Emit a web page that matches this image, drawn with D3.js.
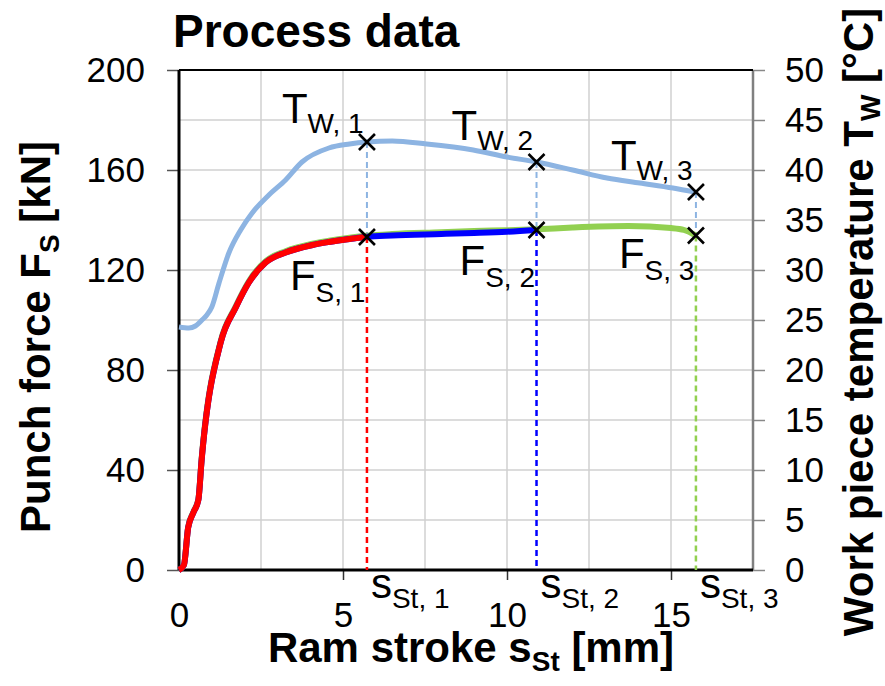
<!DOCTYPE html>
<html><head><meta charset="utf-8">
<script src="https://cdn.jsdelivr.net/npm/d3@7"></script>
<style>body{margin:0;background:#fff}svg{display:block}text{font-family:"Liberation Sans",Arial,sans-serif}</style>
</head><body>
<script>
// ---- data ----
const xTicks = [0, 5, 10, 15];
const xGrid = [2.5, 5, 7.5, 10, 12.5, 15];
const yLeftTicks = [0, 40, 80, 120, 160, 200];
const yGrid = [20, 40, 60, 80, 100, 120, 140, 160, 180];
const yRightTicks = [0, 5, 10, 15, 20, 25, 30, 35, 40, 45, 50];

const tempStroke = [0, 0.3, 0.5, 0.7, 0.85, 1.0, 1.22, 1.52, 1.88, 2.23, 2.74, 3.25, 3.75, 4.57, 5.2, 5.73, 6.5, 7.55, 8.97, 10.0, 10.9, 12.0, 13.05, 14.05, 15.06, 15.73];
const tempValues = [24.3, 24.2, 24.4, 25.0, 25.5, 26.3, 28.7, 31.7, 34.0, 35.7, 37.5, 39.0, 40.8, 42.2, 42.6, 42.8, 42.9, 42.6, 42.0, 41.3, 40.8, 40.0, 39.2, 38.7, 38.2, 37.8];

const forceStroke1 = [0, 0.15, 0.28, 0.44, 0.59, 0.69, 1.27, 1.73, 2.13, 2.64, 3.25, 4.07, 4.57, 5.2, 5.73];
const forceValues1 = [0, 2, 17, 23, 28, 44, 91, 105, 115, 123, 127, 130, 131.2, 132.4, 133.2];
const forceStroke2 = [0, 0.15, 0.28, 0.44, 0.59, 0.69, 1.27, 1.73, 2.13, 2.64, 3.25, 4.07, 4.57, 5.2, 5.73, 6.5, 8.0, 9.0, 10.0, 10.9];
const forceValues2 = [0, 2, 17, 23, 28, 44, 91, 105, 115, 123, 127, 130, 131.2, 132.4, 133.3, 133.8, 134.4, 134.8, 135.3, 136.0];
const forceStroke3 = [0, 0.15, 0.28, 0.44, 0.59, 0.69, 1.27, 1.73, 2.13, 2.64, 3.25, 4.07, 4.57, 5.2, 5.73, 6.5, 8.0, 9.0, 10.0, 10.9, 12.0, 13.7, 15.0, 15.4, 15.76];
const forceValues3 = [0, 2, 17.3, 23.3, 28.3, 44.5, 91.5, 105.5, 115.5, 123.5, 127.5, 130.5, 131.7, 132.9, 133.7, 134.4, 135.1, 135.6, 135.9, 136.3, 137.0, 137.6, 136.8, 136.0, 133.8];

const markStroke = [5.73, 10.9, 15.76];
const markForce = [133.2, 136.0, 133.8];
const markTemp = [42.8, 40.8, 37.8];
const markIdx = ["1", "2", "3"];
const seriesColors = ["#ff0000", "#0000ff", "#92d050"];
const tempColor = "#8db4e2";

// ---- layout ----
const W = 885, H = 686;
const L = 179, R = 753, T = 70, B = 570;
const svg = d3.select("body").append("svg").attr("width", W).attr("height", H);

const x = d3.scaleLinear().domain([0, 17.5]).range([L, R]);
const yF = d3.scaleLinear().domain([0, 200]).range([B, T]);
const yT = d3.scaleLinear().domain([0, 50]).range([B, T]);

// grid
svg.append("g").selectAll("line").data(xGrid).join("line")
  .attr("x1", d => x(d)).attr("x2", d => x(d)).attr("y1", T).attr("y2", B)
  .attr("stroke", "#d0d0d0").attr("stroke-width", 1.5);
svg.append("g").selectAll("line").data(yGrid).join("line")
  .attr("x1", L).attr("x2", R).attr("y1", d => yF(d)).attr("y2", d => yF(d))
  .attr("stroke", "#d0d0d0").attr("stroke-width", 1.5);

// axes
const axL = svg.append("g").attr("transform", `translate(${L},0)`)
  .call(d3.axisLeft(yF).tickValues(yLeftTicks).tickSize(12).tickPadding(22).tickSizeOuter(0));
const axR = svg.append("g").attr("transform", `translate(${R},0)`)
  .call(d3.axisRight(yT).tickValues(yRightTicks).tickSize(12).tickPadding(20).tickSizeOuter(0));
const axB = svg.append("g").attr("transform", `translate(0,${B})`)
  .call(d3.axisBottom(x).tickValues(xTicks).tickSize(10).tickPadding(20).tickSizeOuter(0));
[axL, axR, axB].forEach(g => {
  g.selectAll("text").attr("font-size", 35).attr("fill", "#000").attr("font-family", '"Liberation Sans",Arial,sans-serif');
});
axL.select(".domain").remove();
axR.select(".domain").remove();
axB.select(".domain").remove();
axL.selectAll(".tick line").attr("stroke", "#555").attr("stroke-width", 1.5);
axR.selectAll(".tick line").attr("stroke", "#888").attr("stroke-width", 1.5);
axB.selectAll(".tick line").attr("stroke", "#333").attr("stroke-width", 1.5);
axB.selectAll(".tick").filter(d => d === 0).select("line").remove();
axR.selectAll("text").attr("text-anchor", "start").attr("x", 32);
axB.selectAll("text").attr("dy", null).attr("y", 57);

// frame
svg.append("line").attr("x1", R).attr("x2", R).attr("y1", T).attr("y2", B).attr("stroke", "#808080").attr("stroke-width", 2.5);
svg.append("line").attr("x1", L).attr("x2", R).attr("y1", T).attr("y2", T).attr("stroke", "#000").attr("stroke-width", 2);
svg.append("line").attr("x1", L).attr("x2", R).attr("y1", B).attr("y2", B).attr("stroke", "#000").attr("stroke-width", 3);
svg.append("line").attr("x1", L).attr("x2", L).attr("y1", T).attr("y2", B).attr("stroke", "#000").attr("stroke-width", 3);

// dashed guides
markStroke.forEach((s, i) => {
  svg.append("line").attr("x1", x(s)).attr("x2", x(s)).attr("y1", yT(markTemp[i])).attr("y2", yF(markForce[i]))
    .attr("stroke", tempColor).attr("stroke-width", 2).attr("stroke-dasharray", "6,4");
  svg.append("line").attr("x1", x(s)).attr("x2", x(s)).attr("y1", yF(markForce[i])).attr("y2", B)
    .attr("stroke", seriesColors[i]).attr("stroke-width", 2.5).attr("stroke-dasharray", "6,4");
});

// curves
const lineF = d3.line().x(d => x(d[0])).y(d => yF(d[1])).curve(d3.curveMonotoneX);
const lineT = d3.line().x(d => x(d[0])).y(d => yT(d[1])).curve(d3.curveMonotoneX);
svg.append("path").datum(d3.zip(tempStroke, tempValues)).attr("d", lineT)
  .attr("fill", "none").attr("stroke", tempColor).attr("stroke-width", 5).attr("stroke-linejoin", "round");
const forceSets = [[forceStroke3, forceValues3, 2], [forceStroke2, forceValues2, 1], [forceStroke1, forceValues1, 0]];
forceSets.forEach(([xs, ys, ci]) => {
  svg.append("path").datum(d3.zip(xs, ys)).attr("d", lineF)
    .attr("fill", "none").attr("stroke", seriesColors[ci]).attr("stroke-width", 6).attr("stroke-linejoin", "round");
});

// markers
function cross(cx, cy) {
  const r = 8;
  svg.append("path").attr("d", `M${cx - r},${cy - r}L${cx + r},${cy + r}M${cx - r},${cy + r}L${cx + r},${cy - r}`)
    .attr("stroke", "#000").attr("stroke-width", 2.6).attr("fill", "none");
}
markStroke.forEach((s, i) => {
  cross(x(s), yT(markTemp[i]));
  cross(x(s), yF(markForce[i]));
});

// point labels
function subLabel(px, py, main, sub, shift) {
  const t = svg.append("text").attr("x", px).attr("y", py).attr("font-size", 42).attr("fill", "#000");
  t.append("tspan").text(main);
  t.append("tspan").attr("font-size", 28).attr("dy", shift).text(sub);
}
const tLabelDy = [-19, -22, -22];
const fLabelDy = [53, 45, 32];
markStroke.forEach((s, i) => {
  subLabel(x(s) - 85, yT(markTemp[i]) + tLabelDy[i], "T", "W, " + markIdx[i], 10);
  subLabel(x(s) - 77, yF(markForce[i]) + fLabelDy[i], "F", "S, " + markIdx[i], 12);
  subLabel(x(s) + 4, B + 28, "s", "St, " + markIdx[i], 10);
});

// titles
svg.append("text").attr("x", 173).attr("y", 47).attr("font-size", 46).attr("font-weight", "bold").text("Process data");

const xt = svg.append("text").attr("x", (L + R) / 2 + 5).attr("y", 662).attr("text-anchor", "middle")
  .attr("font-size", 42).attr("font-weight", "bold");
xt.append("tspan").text("Ram stroke s");
xt.append("tspan").attr("font-size", 28).attr("dy", 9).text("St");
xt.append("tspan").attr("dy", -9).text(" [mm]");

const yl = svg.append("text").attr("transform", `translate(50,${(T + B) / 2 + 17}) rotate(-90)`).attr("text-anchor", "middle")
  .attr("font-size", 42).attr("font-weight", "bold");
yl.append("tspan").text("Punch force F");
yl.append("tspan").attr("font-size", 28).attr("dy", 9).text("S");
yl.append("tspan").attr("dy", -9).text(" [kN]");

const yr = svg.append("text").attr("transform", `translate(873,${(T + B) / 2 + 2}) rotate(-90)`).attr("text-anchor", "middle")
  .attr("font-size", 42).attr("font-weight", "bold");
yr.append("tspan").text("Work piece temperature T");
yr.append("tspan").attr("font-size", 28).attr("dy", 7).text("W");
yr.append("tspan").attr("dy", -7).text(" [°C]");
</script>
</body></html>
